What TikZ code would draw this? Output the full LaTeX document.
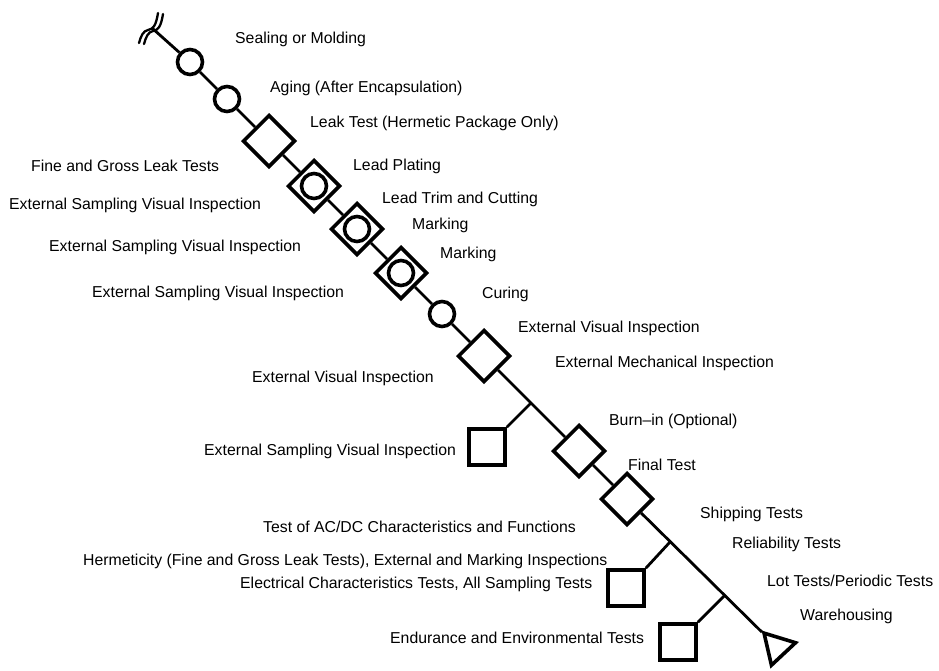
\documentclass[tikz,border=0pt]{standalone}
\usepackage{fontspec}
\setmainfont{Liberation Sans}
\usetikzlibrary{shapes.geometric}
\begin{document}
\begin{tikzpicture}[x=1pt,y=-1pt,
  lbl/.style={anchor=base west, inner sep=0pt, font=\fontsize{15.8}{18}\selectfont},
  opcirc/.style={circle, draw, line width=3.6pt, fill=white, minimum size=25pt, inner sep=0pt},
  inspbox/.style={rectangle, draw, line width=3.6pt, fill=white, minimum size=36pt, inner sep=0pt, rotate=45},
  sampbox/.style={rectangle, draw, line width=3.6pt, fill=white, minimum size=36pt, inner sep=0pt},
  store/.style={regular polygon, regular polygon sides=3, draw, line width=3.6pt, fill=white, minimum size=38pt, inner sep=0pt, rotate=43, line join=miter},
  flow/.style={line width=2.8pt},
  brkline/.style={line width=2.3pt, line cap=round},
]
\useasboundingbox (0,0) rectangle (939,670);

% break symbol
\draw[brkline] (139,43) .. controls (141,36) and (143,31) .. (148,30) .. controls (153,29) and (156,26) .. (158,13);
\draw[brkline] (144,44) .. controls (146,37) and (148,32) .. (153,31) .. controls (158,30) and (161,27) .. (163,14);
\coordinate (brk) at (152,28);

% process symbols on main flow
\node[opcirc] (c1) at (190,62) {};
\node[opcirc] (c2) at (227,99) {};
\node[inspbox] (d1) at (269,141) {};
\node[inspbox] (dc1) at (314,186) {};
\node[opcirc] (dc1c) at (314,186) {};
\node[inspbox] (dc2) at (357,229) {};
\node[opcirc] (dc2c) at (357,229) {};
\node[inspbox] (dc3) at (401,273) {};
\node[opcirc] (dc3c) at (401,273) {};
\node[opcirc] (c3) at (442,314) {};
\node[inspbox] (d2) at (484,356) {};
\node[inspbox] (d3) at (579,451) {};
\node[inspbox] (d4) at (627,499) {};
\node[store] (tri) at (777,647) {};

% sampling squares
\node[sampbox] (s1) at (487,447) {};
\node[sampbox] (s2) at (626,588) {};
\node[sampbox] (s3) at (678,642) {};
\coordinate (b1) at (531,403);
\coordinate (b2) at (670,542);
\coordinate (b3) at (724,596);

% main flow line
\draw[flow] (brk) -- (c1) -- (c2) -- (d1) -- (dc1) -- (dc2) -- (dc3) -- (c3) -- (d2) -- (d3) -- (d4) -- (tri);
\draw[flow] (s1.north east) -- (b1);
\draw[flow] (s2.north east) -- (b2);
\draw[flow] (s3.north east) -- (b3);

% labels
\node[lbl] (t1) at (235,43.5) {Sealing or Molding};
\node[lbl] (t2) at (270,92.5) {Aging (After Encapsulation)};
\node[lbl] (t3) at (310,127.5) {Leak Test (Hermetic Package Only)};
\node[lbl] (t4) at (31,171.5) {Fine and Gross Leak Tests};
\node[lbl] (t5) at (353,170.5) {Lead Plating};
\node[lbl] (t6) at (9,209.5) {External Sampling Visual Inspection};
\node[lbl] (t7) at (382,203.5) {Lead Trim and Cutting};
\node[lbl] (t8) at (412,229.5) {Marking};
\node[lbl] (t9) at (49,251.5) {External Sampling Visual Inspection};
\node[lbl] (t10) at (440,258.5) {Marking};
\node[lbl] (t11) at (92,297.5) {External Sampling Visual Inspection};
\node[lbl] (t12) at (482,298.5) {Curing};
\node[lbl] (t13) at (518,332.5) {External Visual Inspection};
\node[lbl] (t14) at (555,367.5) {External Mechanical Inspection};
\node[lbl] (t15) at (252,382.5) {External Visual Inspection};
\node[lbl] (t16) at (204,455) {External Sampling Visual Inspection};
\node[lbl] (t17) at (609,425.5) {Burn–in (Optional)};
\node[lbl] (t18) at (628,470) {Final Test};
\node[lbl] (t19) at (263,532.5) {Test of AC/DC Characteristics and Functions};
\node[lbl] (t20) at (700,518.5) {Shipping Tests};
\node[lbl] (t21) at (732,548.5) {Reliability Tests};
\node[lbl] (t22) at (83,565.5) {Hermeticity (Fine and Gross Leak Tests), External and Marking Inspections};
\node[lbl] (t23) at (240,588.5) {Electrical Characteristics Tests, All Sampling Tests};
\node[lbl] (t24) at (767,586.5) {Lot Tests/Periodic Tests};
\node[lbl] (t25) at (800,620.5) {Warehousing};
\node[lbl] (t26) at (390,643.5) {Endurance and Environmental Tests};
\end{tikzpicture}
\end{document}
